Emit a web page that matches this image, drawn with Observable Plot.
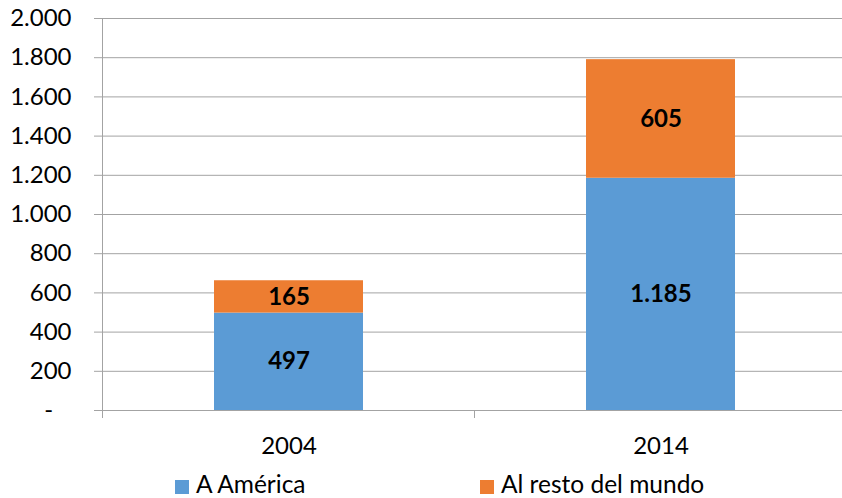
<!DOCTYPE html>
<html>
<head>
<meta charset="utf-8">
<script src="https://cdn.jsdelivr.net/npm/d3@7"></script>
<script src="https://cdn.jsdelivr.net/npm/@observablehq/plot@0.6"></script>
<style>
  body { margin: 0; background: #fff; font-family: Lato, "Open Sans", sans-serif; }
  #wrap { position: relative; width: 842px; height: 498px; overflow: hidden; }
  #legend { position: absolute; left: 0; top: 471px; width: 842px; height: 26px; font-size: 24.5px; color: #000; }
  .item { position: absolute; top: 0; white-space: nowrap; line-height: 26px; }
  .sw { display: inline-block; width: 14px; height: 14px; margin-right: 7px; vertical-align: -1px; }
</style>
</head>
<body>
<div id="wrap"><div id="chart"></div><div id="legend"></div></div>
<script>
const years = ["2004", "2014"];
const america = [497, 1185];
const resto = [165, 605];
const series = ["A América", "Al resto del mundo"];
const colors = ["#5b9bd5", "#ed7d31"];
const yTicks = [0, 200, 400, 600, 800, 1000, 1200, 1400, 1600, 1800, 2000];

const data = years.flatMap((y, i) => [
  {year: y, serie: series[0], value: america[i]},
  {year: y, serie: series[1], value: resto[i]}
]);

const fmt = d => d3.format(",")(d).replace(/,/g, ".");
const gray = "#a3a3a3";

function frameLines(index, scales, values, dims) {
  const x = scales.x, y = scales.y;
  const step = x.step(), pi = x.paddingInner();
  const ns = "http://www.w3.org/2000/svg";
  const g = document.createElementNS(ns, "g");
  const y0 = y(0), yTop = y(d3.max(yTicks));
  const add = (x1, y1, x2, y2) => {
    const l = document.createElementNS(ns, "line");
    l.setAttribute("x1", x1); l.setAttribute("y1", y1);
    l.setAttribute("x2", x2); l.setAttribute("y2", y2);
    l.setAttribute("stroke", gray); l.setAttribute("stroke-width", 1);
    l.setAttribute("shape-rendering", "crispEdges");
    g.appendChild(l);
  };
  const bounds = x.domain().map(d => x(d) - step * pi / 2);
  bounds.push(x(x.domain()[x.domain().length - 1]) + x.bandwidth() + step * pi / 2);
  const left = bounds[0];
  add(left, yTop, left, y0 + 8);
  bounds.forEach(b => add(b, y0, b, y0 + 8));
  return g;
}

const chart = Plot.plot({
  width: 842,
  height: 470,
  marginLeft: 102,
  marginRight: 0,
  marginTop: 18,
  marginBottom: 60,
  style: {fontFamily: "Lato, 'Open Sans', sans-serif", fontSize: "24px", color: "#000", background: "#fff"},
  x: {domain: years, range: [102, 846], paddingInner: 0.6, paddingOuter: 0.3, label: null},
  y: {domain: [0, 2000], label: null},
  color: {domain: series, range: colors},
  marks: [
    Plot.gridY(yTicks, {stroke: gray, strokeOpacity: 1}),
    Plot.axisY(yTicks, {
      tickSize: 8, tickPadding: 23, stroke: gray, strokeOpacity: 1, fill: "#000",
      tickFormat: d => d === 0 ? "-\u00a0\u00a0\u00a0" : fmt(d), label: null
    }),
    Plot.axisX({tickSize: 0, tickPadding: 26, fill: "#000", label: null}),
    Plot.barY(data, {x: "year", y: "value", fill: "serie"}),
    Plot.ruleY([0], {stroke: gray}),
    frameLines,
    Plot.text(data, Plot.stackY({
      x: "year", y: "value", text: d => fmt(d.value),
      fontWeight: "bold", fontSize: 24, fill: "#000"
    }))
  ]
});
document.getElementById("chart").appendChild(chart);

const legend = document.getElementById("legend");
const legendX = [175, 480];
series.forEach((s, i) => {
  const it = document.createElement("div");
  it.className = "item";
  it.style.left = legendX[i] + "px";
  it.innerHTML = `<span class="sw" style="background:${colors[i]}"></span>${s}`;
  legend.appendChild(it);
});
</script>
</body>
</html>
